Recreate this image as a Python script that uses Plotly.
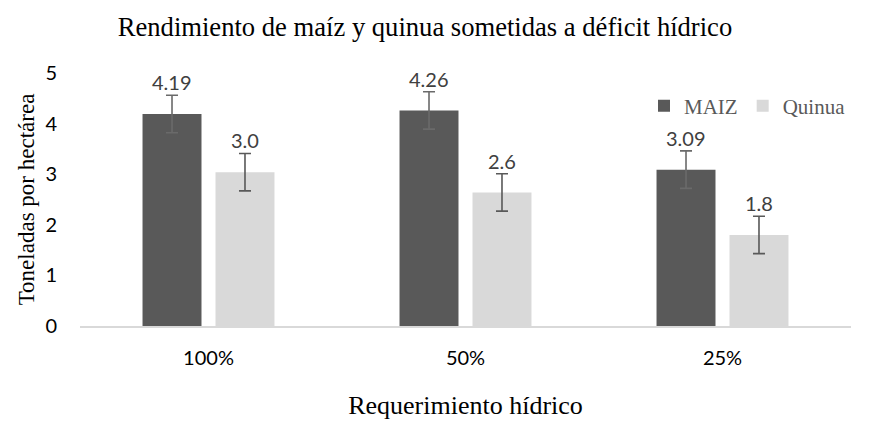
import plotly.graph_objects as go

categories = ["100%", "50%", "25%"]
maiz = [4.19, 4.26, 3.09]
quinua = [3.04, 2.64, 1.80]
maiz_err = [0.37, 0.37, 0.37]
quinua_err = [0.37, 0.37, 0.37]
y_ticks = [0, 1, 2, 3, 4, 5]

# the page body adds an 8 px offset, so the figure is 8 px smaller
W, H = 862, 413

fig = go.Figure()
fig.add_trace(go.Bar(
    name="MAIZ", x=categories, y=maiz, marker_color="#595959", marker_line_width=0,
    error_y=dict(type="data", array=maiz_err, visible=True, color="#6a6a6a", thickness=1.6, width=6),
))
fig.add_trace(go.Bar(
    name="Quinua", x=categories, y=quinua, marker_color="#d9d9d9", marker_line_width=0,
    error_y=dict(type="data", array=quinua_err, visible=True, color="#595959", thickness=1.6, width=6),
))

# data labels above the error bars
for vals, errs, fmt, shift in [(maiz, maiz_err, "{:.2f}", -36.5), (quinua, quinua_err, "{:.1f}", 36.5)]:
    for c, v, e in zip(categories, vals, errs):
        fig.add_annotation(x=c, y=v + e, text=fmt.format(v), showarrow=False,
                           xshift=shift, yanchor="bottom", yshift=-1,
                           font=dict(family="Lato", size=20, color="#404040"))

fig.update_layout(
    width=W, height=H,
    margin=dict(l=71.5, r=19, t=65, b=95),
    plot_bgcolor="white", paper_bgcolor="white",
    barmode="group", bargap=0.432, bargroupgap=0.192,
    title=dict(text="Rendimiento de maíz y quinua sometidas a déficit hídrico",
               x=417 / W, xanchor="center", y=1 - 19 / H, yanchor="middle",
               font=dict(family="Liberation Serif", size=26.6, color="#000000")),
    legend=dict(orientation="h", x=1.0, xanchor="right", y=1 - (106 - 73) / (326 - 73), yanchor="middle",
                font=dict(family="Liberation Serif", size=21, color="#595959"),
                itemwidth=30, tracegroupgap=0, bgcolor="rgba(0,0,0,0)"),
    showlegend=True,
)
fig.update_xaxes(
    automargin=False,
    showgrid=False, showline=True, linecolor="#d9d9d9", linewidth=1.5, ticks="",
    tickfont=dict(family="Lato", size=20, color="#000000"), ticklabelstandoff=13,
    title=dict(text="Requerimiento hídrico", standoff=28,
               font=dict(family="Liberation Serif", size=26, color="#000000")),
)
fig.update_yaxes(
    automargin=False,
    range=[0, 5], tickvals=y_ticks, showgrid=False, showline=False, zeroline=False, ticks="",
    tickfont=dict(family="Lato", size=20, color="#000000"), ticklabelstandoff=22,
    title=dict(text="Toneladas por hectárea", standoff=4,
               font=dict(family="Liberation Serif", size=23, color="#000000")),
)

fig.write_html("out.html")
